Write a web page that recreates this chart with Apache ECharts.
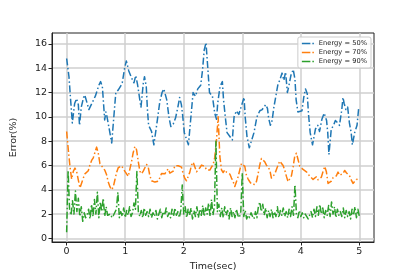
<!DOCTYPE html>
<html>
<head>
<meta charset="utf-8">
<script src="https://cdn.jsdelivr.net/npm/echarts@6/dist/echarts.min.js"></script>
<style>
html,body{margin:0;padding:0;background:#fff;}
#chart{width:415px;height:277px;}
</style>
</head>
<body>
<div id="chart"></div>
<script>
// ---- data ----
var seriesNames = ['Energy = 50%', 'Energy = 70%', 'Energy = 90%'];
var xTicks = [0, 1, 2, 3, 4, 5];
var yTicks = [0, 2, 4, 6, 8, 10, 12, 14, 16];

var blueT = [0, 0.04, 0.068, 0.097, 0.108, 0.137, 0.17, 0.20, 0.22, 0.25,
  0.29, 0.31, 0.38, 0.44, 0.49, 0.55, 0.58, 0.61, 0.65, 0.67,
  0.69, 0.72, 0.77, 0.84, 0.88, 0.92, 0.95, 0.99, 1.02, 1.06,
  1.11, 1.15, 1.18, 1.21, 1.25, 1.27, 1.31, 1.33, 1.36, 1.38,
  1.40, 1.45, 1.49, 1.55, 1.59, 1.63, 1.66, 1.71, 1.75, 1.78,
  1.82, 1.86, 1.90, 1.93, 1.96, 1.98, 2.01, 2.08, 2.16, 2.20,
  2.24, 2.29, 2.32, 2.35, 2.38, 2.41, 2.44, 2.49, 2.53, 2.56,
  2.58, 2.62, 2.66, 2.68, 2.71, 2.74, 2.83, 2.86, 2.90, 2.94,
  2.98, 3.03, 3.05, 3.08, 3.12, 3.20, 3.25, 3.30, 3.34, 3.40,
  3.43, 3.45, 3.48, 3.51, 3.54, 3.57, 3.61, 3.64, 3.68, 3.71,
  3.74, 3.77, 3.79, 3.83, 3.87, 3.90, 3.92, 3.95, 3.98, 4.02,
  4.05, 4.08, 4.11, 4.13, 4.16, 4.20, 4.25, 4.29, 4.32, 4.36,
  4.40, 4.44, 4.46, 4.48, 4.52, 4.56, 4.59, 4.63, 4.66, 4.70,
  4.72, 4.74, 4.77, 4.80, 4.83, 4.86, 4.88, 4.92, 4.96, 4.99];
var blueV = [14.8, 13.3, 11.4, 9.5, 9.4, 11.1, 11.5, 11.0, 9.3, 10.8,
  11.6, 11.8, 10.6, 11.2, 11.7, 12.6, 12.9, 12.5, 9.75, 10.4,
  10.0, 9.2, 7.85, 12.0, 12.2, 12.5, 12.8, 14.0, 14.6, 13.8,
  13.2, 12.8, 13.4, 12.7, 11.4, 10.8, 12.8, 13.3, 12.5, 10.6,
  9.3, 8.8, 7.7, 9.75, 11.2, 12.0, 12.3, 11.4, 9.9, 9.2,
  9.4, 9.9, 10.8, 11.6, 11.0, 10.2, 8.7, 7.7, 12.0, 11.7,
  12.3, 12.6, 13.8, 15.5, 16.1, 14.1, 12.0, 11.7, 10.3, 9.8,
  11.1, 12.5, 12.9, 11.4, 10.0, 8.7, 8.1, 10.0, 10.5, 10.2,
  10.8, 11.6, 10.0, 8.4, 7.45, 8.7, 10.0, 10.5, 10.6, 11.0,
  10.7, 9.9, 9.3, 9.7, 10.8, 11.6, 12.7, 13.0, 13.6, 13.0,
  13.7, 12.0, 12.4, 13.4, 13.9, 13.1, 11.4, 10.4, 10.4, 10.5,
  11.6, 12.3, 11.9, 10.3, 8.7, 7.7, 9.0, 9.3, 8.8, 9.8,
  10.3, 9.7, 8.7, 6.9, 9.0, 9.3, 9.7, 9.5, 9.3, 10.6,
  11.6, 11.1, 10.6, 10.8, 9.5, 8.7, 7.7, 8.7, 9.3, 10.8];

var orangeStep = 0.02844; // sec between samples
var orangeV = [8.79, 7.29, 5.92, 4.88, 5.51, 5.78, 5.51, 4.82, 4.14, 4.27,
  4.96, 5.31, 5.40, 5.56, 6.05, 6.41, 6.63, 7.07, 7.51, 7.01,
  6.14, 6.08, 5.78, 5.59, 5.23, 4.63, 4.25, 4.00, 4.22, 4.82,
  5.42, 5.81, 5.75, 5.97, 6.03, 5.51, 5.40, 5.10, 5.23, 6.33,
  7.07, 7.56, 7.29, 6.33, 5.51, 5.31, 5.53, 5.81, 6.08, 5.86,
  5.15, 4.74, 4.60, 4.63, 4.60, 4.71, 4.99, 5.34, 5.34, 5.31,
  5.53, 5.73, 5.37, 5.21, 5.53, 5.97, 6.11, 5.97, 6.08, 5.86,
  5.31, 4.93, 4.74, 4.85, 5.45, 6.03, 6.27, 6.16, 5.48, 5.42,
  5.81, 6.03, 6.14, 5.92, 5.64, 5.53, 5.62, 5.86, 6.08, 6.68,
  8.11, 10.0, 6.74, 5.64, 5.42, 5.64, 5.45, 5.42, 5.29, 4.96,
  4.68, 4.27, 4.41, 5.07, 5.64, 6.16, 6.19, 5.92, 5.18, 4.88,
  4.66, 4.47, 4.33, 4.44, 4.68, 5.31, 6.05, 6.57, 6.57, 6.30,
  6.03, 6.00, 5.64, 4.96, 4.85, 5.29, 5.67, 6.03, 6.36, 6.41,
  6.00, 5.62, 5.10, 4.66, 4.71, 5.15, 5.86, 6.77, 7.01, 6.47,
  5.94, 5.86, 5.67, 5.59, 5.48, 5.37, 5.12, 5.04, 4.85, 4.77,
  5.07, 4.82, 4.79, 5.04, 5.51, 5.92, 5.48, 4.52, 4.38, 4.71,
  4.99, 4.93, 5.15, 5.45, 5.18, 5.04, 5.34, 5.59, 5.40, 5.31,
  5.12, 4.79, 4.52, 4.57, 4.85, 4.88];

var greenStep = 0.025; // sec between samples
var greenV = [0.5, 5.6, 2.4, 1.9, 3.1, 2.0, 3.9, 2.2, 3.3, 1.8,
  2.6, 1.4, 2.1, 1.7, 1.9, 2.4, 1.6, 2.8, 1.8, 3.2,
  2.0, 3.8, 1.7, 3.0, 2.2, 3.3, 1.8, 2.6, 1.9, 1.8,
  2.0, 1.7, 1.9, 1.8, 2.4, 3.8, 1.7, 2.2, 1.8, 2.5,
  1.7, 2.3, 1.9, 2.6, 1.8, 2.1, 2.9, 2.4, 5.5, 2.2,
  1.8, 2.3, 1.7, 2.5, 1.9, 2.2, 1.8, 2.4, 1.7, 2.1,
  1.8, 2.3, 1.6, 2.0, 2.4, 1.7, 2.2, 1.9, 2.5, 1.8,
  2.1, 1.7, 2.4, 1.8, 2.5, 1.9, 2.2, 1.7, 2.3, 4.4,
  2.0, 2.6, 1.7, 2.4, 1.9, 2.5, 1.6, 2.3, 1.8, 2.6,
  1.7, 2.4, 1.9, 2.7, 1.8, 2.5, 2.0, 2.9, 1.8, 3.2,
  1.9, 2.7, 8.0, 2.2, 2.8, 1.8, 2.5, 1.7, 2.6, 1.9,
  2.3, 1.6, 2.5, 1.8, 2.2, 1.7, 2.4, 1.9, 1.7, 2.2,
  5.4, 1.8, 2.3, 1.6, 1.9, 1.7, 2.1, 1.8, 1.6, 2.2,
  1.7, 2.6, 3.0, 2.2, 2.8, 1.9, 2.5, 1.7, 2.3, 1.8,
  2.4, 1.7, 2.2, 1.8, 2.6, 1.7, 2.3, 1.9, 2.5, 1.8,
  2.2, 1.7, 2.4, 1.8, 2.6, 1.9, 4.4, 2.0, 1.7, 2.3,
  1.8, 2.1, 1.7, 2.0, 1.8, 1.6, 1.9, 2.2, 1.7, 2.4,
  1.8, 2.6, 1.9, 2.8, 2.0, 2.5, 1.7, 2.3, 1.9, 2.7,
  1.8, 3.0, 2.0, 2.6, 1.7, 2.4, 1.9, 2.2, 1.8, 2.5,
  1.7, 2.3, 1.8, 2.2, 1.6, 2.4, 1.9, 2.6, 1.7, 2.4,
  1.8];

// ---- build ----
function pairs(ts, vs) { return vs.map(function (v, i) { return [ts[i], v]; }); }
function stepPairs(step, vs) { return vs.map(function (v, i) { return [+(i * step).toFixed(4), v]; }); }

var colors = ['#1f77b4', '#ff7f0e', '#2ca02c'];
var dashDot = [7, 2.5, 1.5, 2.5];
var FONT = 'DejaVu Sans';
var legendIcon = 'path://M0,0H8.5V1.6H0Z M10.5,0H12V1.6H10.5Z';

function mkSeries(name, data, color) {
  return {
    name: name, type: 'line', data: data, showSymbol: false, symbol: 'none',
    color: color,
    lineStyle: { color: color, width: 1.5, type: dashDot, cap: 'butt', join: 'round' },
    animation: false
  };
}

var chart = echarts.init(document.getElementById('chart'), null, { renderer: 'canvas' });
chart.setOption({
  backgroundColor: '#ffffff',
  animation: false,
  textStyle: { fontFamily: FONT },
  grid: { left: 52, right: 41, top: 33, bottom: 35, show: true, borderColor: '#222', borderWidth: 1, backgroundColor: 'transparent' },
  legend: {
    orient: 'vertical', right: 44, top: 37,
    itemWidth: 12, itemHeight: 7, itemGap: 2,
    padding: [3, 4, 3, 4],
    borderColor: '#cccccc', borderWidth: 1, borderRadius: 2,
    backgroundColor: 'rgba(255,255,255,0.85)',
    icon: legendIcon,
    itemStyle: { borderWidth: 0 },
    textStyle: { fontFamily: FONT, fontSize: 6.7, color: '#222' },
    data: seriesNames
  },
  xAxis: {
    type: 'value', min: -0.25, max: 5.25,
    name: 'Time(sec)', nameLocation: 'middle', nameGap: 19,
    nameTextStyle: { fontFamily: FONT, fontSize: 9.5, color: '#222' },
    axisLine: { show: true, onZero: false, lineStyle: { color: '#222', width: 1 } },
    axisTick: { show: true, length: 3.5, lineStyle: { color: '#222' }, customValues: xTicks },
    axisLabel: { show: true, margin: 5, fontFamily: FONT, fontSize: 9.5, color: '#222', customValues: xTicks },
    splitLine: { show: true, lineStyle: { color: '#cfcfcf', width: 1.5 } }
  },
  yAxis: {
    type: 'value', min: -0.3, max: 16.9,
    name: 'Error(%)', nameLocation: 'middle', nameGap: 33, nameRotate: 90,
    nameTextStyle: { fontFamily: FONT, fontSize: 9.5, color: '#222' },
    axisLine: { show: true, onZero: false, lineStyle: { color: '#222', width: 1 } },
    axisTick: { show: true, length: 3.5, lineStyle: { color: '#222' }, customValues: yTicks },
    axisLabel: { show: true, margin: 5, fontFamily: FONT, fontSize: 9.5, color: '#222', customValues: yTicks },
    splitLine: { show: true, lineStyle: { color: '#cfcfcf', width: 1.5 } }
  },
  series: [
    mkSeries(seriesNames[0], pairs(blueT, blueV), colors[0]),
    mkSeries(seriesNames[1], stepPairs(orangeStep, orangeV), colors[1]),
    mkSeries(seriesNames[2], stepPairs(greenStep, greenV), colors[2])
  ]
});
</script>
</body>
</html>
